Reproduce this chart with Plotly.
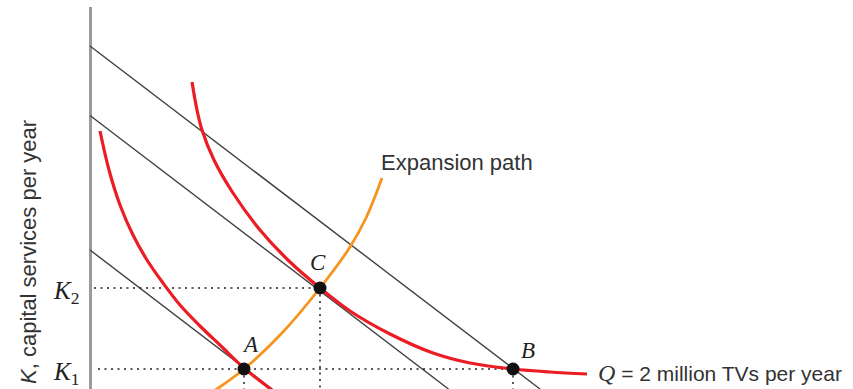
import plotly.graph_objects as go

# isocost lines: K-intercept and L-intercept
iso_k = [13.9, 27.35, 34.3]
iso_l = [18.2, 35.85, 45.0]

# isoquant Q = 1 million (left) and Q = 2 million (right)
q1_L = [1.0, 1.9, 3.0, 4.3, 5.7, 7.3, 9.0, 11.0, 13.2, 15.4, 17.8, 20.0]
q1_K = [25.8, 21.9, 18.4, 15.4, 12.9, 10.6, 8.4, 6.3, 4.2, 2.1, 0.2, -1.4]
q2_L = [10.2, 10.7, 11.2, 12.4, 14.3, 17.0, 20.0, 23.0, 26.0, 30.0, 34.3, 38.0, 42.3, 46.0, 49.7]
q2_K = [30.7, 27.9, 25.9, 22.9, 19.6, 15.9, 12.7, 10.1, 7.8, 5.5, 3.6, 2.6, 2.0, 1.7, 1.5]

# expansion path
exp_L = [11.0, 12.7, 15.4, 19.2, 23.0, 26.0, 27.6, 29.2]
exp_K = [-1.1, 0.0, 2.0, 5.6, 10.1, 14.2, 17.1, 21.1]

# optimum points
pt_names = ["A", "C", "B"]
pt_L = [15.4, 23.0, 42.3]
pt_K = [2.0, 10.1, 2.0]
K1, K2 = 2.0, 10.1

RED = "#ec1c24"
ORANGE = "#f7941d"
INK = "#231f20"

fig = go.Figure()

# isocosts
for k, l in zip(iso_k, iso_l):
    fig.add_trace(go.Scatter(x=[0, l], y=[k, 0], mode="lines",
                             line=dict(color="#404040", width=1.4), hoverinfo="skip"))

# dotted guides
dot = "2px,4.5px"
fig.add_trace(go.Scatter(x=[0.4, pt_L[1]], y=[K2, K2], mode="lines",
                         line=dict(color=INK, width=1.5, dash=dot)))
fig.add_trace(go.Scatter(x=[0.8, pt_L[2]], y=[K1, K1], mode="lines",
                         line=dict(color=INK, width=1.5, dash=dot)))
for l, k in zip(pt_L, pt_K):
    fig.add_trace(go.Scatter(x=[l, l], y=[k, -1], mode="lines",
                             line=dict(color=INK, width=1.5, dash=dot)))

# expansion path
fig.add_trace(go.Scatter(x=exp_L, y=exp_K, mode="lines", line_shape="spline",
                         line=dict(color=ORANGE, width=2.8)))

# isoquants
fig.add_trace(go.Scatter(x=q1_L, y=q1_K, mode="lines", line_shape="spline",
                         line=dict(color=RED, width=3.2)))
fig.add_trace(go.Scatter(x=q2_L, y=q2_K, mode="lines", line_shape="spline",
                         line=dict(color=RED, width=3.2)))

# optimum points
fig.add_trace(go.Scatter(x=pt_L, y=pt_K, mode="markers",
                         marker=dict(color="#111111", size=13)))

ann = []
lab_off = {"A": (0.6, 2.5), "C": (-0.2, 2.6), "B": (1.5, 1.9)}
for n, l, k in zip(pt_names, pt_L, pt_K):
    dx, dy = lab_off[n]
    ann.append(dict(x=l + dx, y=k + dy, text=f"<i>{n}</i>", showarrow=False,
                    font=dict(family="Liberation Serif", size=23, color=INK)))

for sub, k in [("1", K1), ("2", K2)]:
    ann.append(dict(x=-2.4, y=k, text=f"<i>K</i><sub>{sub}</sub>", showarrow=False, yshift=-4,
                    font=dict(family="Liberation Serif", size=25, color=INK)))

ann.append(dict(x=36.7, y=22.7, text="Expansion path", showarrow=False,
                font=dict(family="Liberation Sans", size=22, color="#333333")))
ann.append(dict(x=50.6, y=1.6, xanchor="left",
                text="<span style='font-family:Liberation Serif;font-size:24px'><i>Q</i></span> = 2 million TVs per year",
                showarrow=False, font=dict(family="Liberation Sans", size=21, color="#333333")))
ann.append(dict(x=-6.2, y=13.7, text="<i>K</i>, capital services per year", textangle=-90,
                showarrow=False, font=dict(family="Liberation Sans", size=22, color="#333333")))

fig.update_layout(
    width=853, height=389,
    margin=dict(l=0, r=0, t=7, b=0),
    plot_bgcolor="white", paper_bgcolor="white",
    showlegend=False,
    annotations=ann,
    xaxis=dict(range=[-9.0, 76.3], showgrid=False, showticklabels=False, ticks="",
               zeroline=True, zerolinecolor="#9a9a9a", zerolinewidth=3),
    yaxis=dict(range=[0, 38.2], showgrid=False, showticklabels=False, ticks="",
               zeroline=False),
)

fig.write_html("out.html", config={"displayModeBar": False})

# drop the default page margin so the chart sits at the window's corner
with open("out.html", encoding="utf-8") as f:
    html = f.read()
html = html.replace("<body>", "<body style=\"margin:0\">", 1)
with open("out.html", "w", encoding="utf-8") as f:
    f.write(html)
